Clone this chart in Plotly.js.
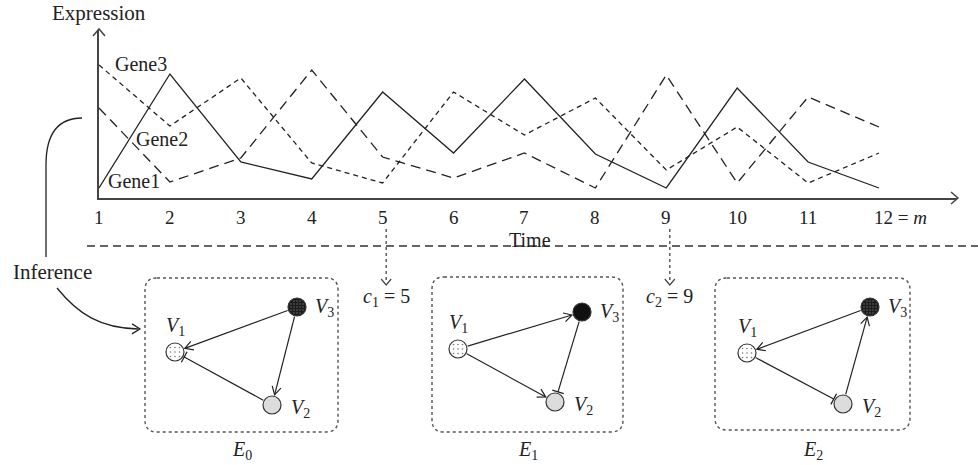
<!DOCTYPE html>
<html><head><meta charset="utf-8">
<script src="https://cdn.plot.ly/plotly-3.0.1.min.js"></script>
<style>html,body{margin:0;padding:0;background:#fff}#chart{width:978px;height:465px}</style>
</head><body><div id="chart"></div>
<script>
// ---- chart data ----
const timePoints = [1,2,3,4,5,6,7,8,9,10,11,12];
const tickLabels = ['1','2','3','4','5','6','7','8','9','10','11','12 = <i>m</i>'];
const gene1 = [10,124,36,19,106,45,119,44,10,110,36,10];
const gene2 = [90,16,40,128,41,20,45,10,123,15,101,71];
const gene3 = [133,72,120,35,15,106,63,100,28,71,15,45];
const geneNames = ['Gene1','Gene2','Gene3'];
const changePoints = [5, 9];
const changeLabels = ['<i>c</i><sub>1</sub> = 5', '<i>c</i><sub>2</sub> = 9'];
// ---- network diagrams (pixel layout) ----
const netNames = ['<i>E</i><sub>0</sub>','<i>E</i><sub>1</sub>','<i>E</i><sub>2</sub>'];
const netBoxes = [[145,278,338,432],[432,277,623,432],[715,278,910,430]];
const netNodes = [
  {V1:[175,352], V2:[272,405], V3:[297,307]},
  {V1:[458,349], V2:[555,402], V3:[582,312]},
  {V1:[747,353], V2:[843,404], V3:[870,307]}
];
const netEdges = [
  [['V3','V1','act'],['V3','V2','act'],['V2','V1','inh']],
  [['V1','V3','act'],['V1','V2','act'],['V3','V2','inh']],
  [['V3','V1','act'],['V2','V3','act'],['V1','V2','inh']]
];
const v3Solid = [false, true, false];

const INK = '#222';
const FONT = 'Liberation Serif, Times New Roman, serif';
const W = 978, H = 465;
const R = 9;
const FS = 20;

const shapes = [];
const annotations = [];
const traces = [];

// main lines
const dashes = ['solid','10px,6px','5px,4px'];
[gene1,gene2,gene3].forEach((g,i)=>{
  traces.push({x:timePoints, y:g, type:'scatter', mode:'lines', xaxis:'x', yaxis:'y',
    line:{color:INK, width:1.3, dash:dashes[i]}, hoverinfo:'skip', cliponaxis:false});
});

function P(path, opts){ shapes.push(Object.assign({type:'path', xref:'x2', yref:'y2', path:path, line:{color:INK,width:1.3}, layer:'above'}, opts||{})); }
function txt(x,y,t,size,extra){ annotations.push(Object.assign({xref:'x2', yref:'y2', x:x, y:y, text:t, showarrow:false, font:{family:FONT,size:size||FS,color:INK}, xanchor:'center', yanchor:'middle'}, extra||{})); }
function chevron(tip, ux, uy, len, half){
  const nx=-uy, ny=ux;
  const a1=[tip[0]-ux*len+nx*half, tip[1]-uy*len+ny*half];
  const a2=[tip[0]-ux*len-nx*half, tip[1]-uy*len-ny*half];
  return `M${a1[0]},${a1[1]} L${tip[0]},${tip[1]} L${a2[0]},${a2[1]}`;
}

// axis arrowheads
P(chevron([99,29],0,-1,7,6), {line:{color:'#444',width:1.5}});
P(chevron([958,198],1,0,7,6), {line:{color:'#444',width:1.5}});

// axis tick labels
timePoints.forEach((t,i)=>{
  annotations.push({xref:'x', yref:'y2', x:t, y:217, text:tickLabels[i], showarrow:false,
    xshift: i===11 ? 21 : 0, font:{family:FONT,size:19,color:INK}, xanchor:'center', yanchor:'middle'});
});
txt(99,13,'Expression',21);
txt(530,240,'Time');
txt(141,64,geneNames[2]);
txt(162,139,geneNames[1]);
txt(134,181,geneNames[0]);

// separator
shapes.push({type:'line', xref:'x2', yref:'y2', x0:87, x1:978, y0:246, y1:246, line:{color:'#333', width:1.3, dash:'8px,5px'}, layer:'below'});

// change points
const pxPerUnit = (957-99)/12.1;
changePoints.forEach((c,i)=>{
  shapes.push({type:'line', xref:'x', yref:'y2', x0:c+0.05, x1:c+0.05, y0:229, y1:283, line:{color:'#444', width:1.3, dash:'dot'}});
  annotations.push({xref:'x', yref:'y2', x:c+0.05, y:297, text:changeLabels[i], showarrow:false, font:{family:FONT,size:FS,color:INK}, xanchor:'center', yanchor:'middle'});
  const px = 99 + (c+0.05-1)*pxPerUnit;
  P(chevron([px,285],0,1,6,5), {line:{color:'#444',width:1.2}});
});

// inference curves
P('M82,118 C58,118 46,134 46,165 L46,257', {line:{color:INK,width:1.3}});
txt(52,272,'Inference',21);
P('M57,288 C78,314 100,328 138,329', {line:{color:INK,width:1.3}});
P(chevron([140,329],1,0.02,8,5), {line:{color:INK,width:1.3}});

// networks
function rrect(x0,y0,x1,y1,r){
  return `M${x0+r},${y0} L${x1-r},${y0} Q${x1},${y0} ${x1},${y0+r} L${x1},${y1-r} Q${x1},${y1} ${x1-r},${y1} L${x0+r},${y1} Q${x0},${y1} ${x0},${y1-r} L${x0},${y0+r} Q${x0},${y0} ${x0+r},${y0} Z`;
}
const dotX=[], dotY=[], ldotX=[], ldotY=[];
netBoxes.forEach((b,k)=>{
  P(rrect(b[0],b[1],b[2],b[3],12), {line:{color:'#555',width:1.4,dash:'dot'}, layer:'below'});
  txt((b[0]+b[2])/2, 450, netNames[k]);
  const nodes = netNodes[k];
  netEdges[k].forEach(e=>{
    const p=nodes[e[0]], q=nodes[e[1]];
    const dx=q[0]-p[0], dy=q[1]-p[1], L=Math.hypot(dx,dy), ux=dx/L, uy=dy/L;
    const s=[p[0]+ux*(R+1), p[1]+uy*(R+1)];
    const t=[q[0]-ux*(R+1.5), q[1]-uy*(R+1.5)];
    P(`M${s[0]},${s[1]} L${t[0]},${t[1]}`, {line:{color:INK,width:1.2}, layer:'below'});
    if(e[2]==='act'){
      P(chevron(t,ux,uy,8,4.5), {line:{color:INK,width:1.2}, layer:'below'});
    } else {
      const nx=-uy, ny=ux;
      P(`M${t[0]+nx*6},${t[1]+ny*6} L${t[0]-nx*6},${t[1]-ny*6}`, {line:{color:INK,width:1.3}, layer:'below'});
    }
  });
  const fills = {V1:'#ffffff', V2:'#dcdcdc', V3: v3Solid[k] ? '#111111' : '#1c1c1c'};
  ['V1','V2','V3'].forEach(v=>{
    const c=nodes[v];
    shapes.push({type:'circle', xref:'x2', yref:'y2', x0:c[0]-R, x1:c[0]+R, y0:c[1]-R, y1:c[1]+R,
      fillcolor:fills[v], line:{color:'#333', width:1.2}, layer:'below'});
  });
  const v1=nodes.V1;
  for(let i=-1;i<=1;i++) for(let j=-1;j<=1;j++){ dotX.push(v1[0]+i*4.5); dotY.push(v1[1]+j*4.5); }
  if(!v3Solid[k]){
    const v3=nodes.V3;
    for(let i=-2;i<=2;i++) for(let j=-2;j<=2;j++){ if(i*i+j*j<=6){ ldotX.push(v3[0]+i*3); ldotY.push(v3[1]+j*3);} }
  }
  txt(nodes.V1[0], nodes.V1[1]-26, '<i>V</i><sub>1</sub>');
  txt(nodes.V3[0]+27, nodes.V3[1], '<i>V</i><sub>3</sub>');
  txt(nodes.V2[0]+28, nodes.V2[1]+3, '<i>V</i><sub>2</sub>');
});
traces.push({x:dotX, y:dotY, xaxis:'x2', yaxis:'y2', type:'scatter', mode:'markers', marker:{size:1.6, color:'#777'}, hoverinfo:'skip'});
traces.push({x:ldotX, y:ldotY, xaxis:'x2', yaxis:'y2', type:'scatter', mode:'markers', marker:{size:1.4, color:'#777'}, hoverinfo:'skip'});

const layout = {
  width:W, height:H, margin:{l:0,r:0,t:0,b:0}, paper_bgcolor:'#fff', plot_bgcolor:'rgba(0,0,0,0)',
  showlegend:false, font:{family:FONT, size:FS, color:INK},
  xaxis:{domain:[99/W, 957/W], range:[1,13.1], showline:true, linecolor:'#444', linewidth:1.5, showgrid:false, zeroline:false, showticklabels:false, ticks:'', fixedrange:true},
  yaxis:{domain:[(H-198)/H, (H-30)/H], range:[0,168], showline:true, linecolor:'#444', linewidth:1.5, showgrid:false, zeroline:false, showticklabels:false, ticks:'', fixedrange:true},
  xaxis2:{domain:[0,1], range:[0,W], visible:false, anchor:'y2', fixedrange:true},
  yaxis2:{domain:[0,1], range:[H,0], visible:false, anchor:'x2', fixedrange:true},
  shapes:shapes, annotations:annotations
};
Plotly.newPlot('chart', traces, layout, {displayModeBar:false});
</script></body></html>
